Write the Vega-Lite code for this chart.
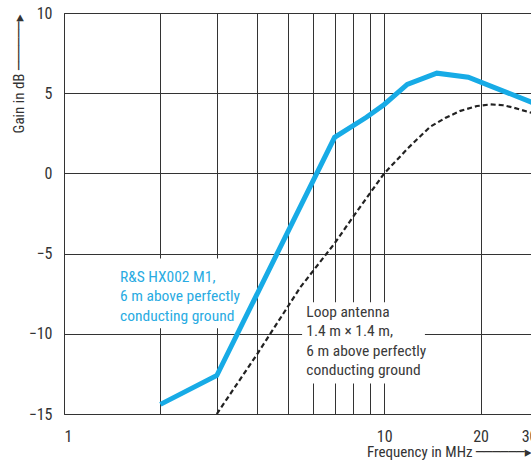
{
  "$schema": "https://vega.github.io/schema/vega-lite/v6.json",
  "width": 473,
  "height": 401,
  "autosize": {"type": "none"},
  "padding": {"left": 64, "top": 13, "right": -6, "bottom": 49},
  "background": "white",
  "config": {
    "view": {"stroke": "#333333", "strokeWidth": 1},
    "font": "Roboto Condensed, Open Sans Condensed, Noto Sans Condensed, DejaVu Sans Condensed",
    "axis": {
      "labelFont": "Roboto Condensed, Open Sans Condensed, Noto Sans Condensed, DejaVu Sans Condensed",
      "titleFont": "Roboto Condensed, Open Sans Condensed, Noto Sans Condensed, DejaVu Sans Condensed",
      "labelFontSize": 16,
      "titleFontSize": 15,
      "titleFontWeight": "normal",
      "labelColor": "#333333",
      "titleColor": "#333333",
      "gridColor": "#333333",
      "gridOpacity": 1,
      "gridWidth": 1,
      "ticks": false,
      "domain": false
    }
  },
  "datasets": {
    "curves": [
      {"series": "HX002", "freq": 2, "gain": -14.4},
      {"series": "HX002", "freq": 3, "gain": -12.6},
      {"series": "HX002", "freq": 7, "gain": 2.25},
      {"series": "HX002", "freq": 8.8, "gain": 3.5},
      {"series": "HX002", "freq": 10, "gain": 4.3},
      {"series": "HX002", "freq": 11.8, "gain": 5.55},
      {"series": "HX002", "freq": 14.6, "gain": 6.25},
      {"series": "HX002", "freq": 18.3, "gain": 6.0},
      {"series": "HX002", "freq": 30, "gain": 4.3},
      {"series": "Loop", "freq": 3, "gain": -15},
      {"series": "Loop", "freq": 4, "gain": -11.3},
      {"series": "Loop", "freq": 5.47, "gain": -7.1},
      {"series": "Loop", "freq": 7, "gain": -4.36},
      {"series": "Loop", "freq": 8, "gain": -2.7},
      {"series": "Loop", "freq": 10, "gain": 0},
      {"series": "Loop", "freq": 11.9, "gain": 1.6},
      {"series": "Loop", "freq": 13.9, "gain": 2.9},
      {"series": "Loop", "freq": 15.5, "gain": 3.45},
      {"series": "Loop", "freq": 17.3, "gain": 3.9},
      {"series": "Loop", "freq": 19.5, "gain": 4.2},
      {"series": "Loop", "freq": 21.5, "gain": 4.3},
      {"series": "Loop", "freq": 23.5, "gain": 4.25},
      {"series": "Loop", "freq": 25.3, "gain": 4.1},
      {"series": "Loop", "freq": 28.6, "gain": 3.8},
      {"series": "Loop", "freq": 30, "gain": 3.7}
    ]
  },
  "layer": [
    {
      "data": {"values": [{}]},
      "mark": {"type": "rect", "color": "white"},
      "encoding": {
        "x": {
          "datum": 1.3, "type": "quantitative",
          "scale": {"type": "log", "domain": [1, 30], "nice": false},
          "axis": {
            "values": [1, 2, 3, 4, 5, 6, 7, 8, 9, 10, 20, 30],
            "format": "d",
            "labelExpr": "(datum.value == 1 || datum.value == 10 || datum.value == 20 || datum.value == 30) ? datum.label : ''",
            "labelPadding": 14,
            "grid": true,
            "title": "Frequency in MHz ──────▸",
            "titleX": 467,
            "titleY": 37,
            "titleAlign": "right",
            "titleBaseline": "middle",
            "titleAnchor": "end",
            "titleLimit": 400
          }
        },
        "x2": {"datum": 3.55},
        "y": {
          "datum": -5.3, "type": "quantitative",
          "scale": {"domain": [-15, 10], "nice": false},
          "axis": {
            "values": [-15, -10, -5, 0, 5, 10],
            "labelPadding": 12,
            "grid": true,
            "title": "Gain in dB ──────▸",
            "titleAngle": -90,
            "titleX": -46,
            "titleY": 1,
            "titleAlign": "right",
            "titleBaseline": "middle",
            "titleAnchor": "end",
            "titleLimit": 300
          }
        },
        "y2": {"datum": -9.66}
      }
    },
    {
      "data": {"values": [{}]},
      "mark": {"type": "rect", "color": "white"},
      "encoding": {
        "x": {"datum": 5.54, "type": "quantitative"},
        "x2": {"datum": 13.4},
        "y": {"datum": -8.04, "type": "quantitative"},
        "y2": {"datum": -13.1}
      }
    },
    {
      "data": {"name": "curves"},
      "transform": [{"filter": "datum.series == 'Loop'"}],
      "mark": {"type": "line", "color": "#222222", "strokeWidth": 2.2, "strokeDash": [5, 3], "clip": true},
      "encoding": {
        "x": {"field": "freq", "type": "quantitative"},
        "y": {"field": "gain", "type": "quantitative"}
      }
    },
    {
      "data": {"name": "curves"},
      "transform": [{"filter": "datum.series == 'HX002'"}],
      "mark": {"type": "line", "color": "#17ABE6", "strokeWidth": 5, "strokeJoin": "miter", "clip": true},
      "encoding": {
        "x": {"field": "freq", "type": "quantitative"},
        "y": {"field": "gain", "type": "quantitative"}
      }
    },
    {
      "data": {"values": [{"freq": 1.496, "gain": -6.0, "label": "R&S HX002 M1,\n6 m above perfectly\nconducting ground"}]},
      "mark": {"type": "text", "align": "left", "baseline": "top", "lineBreak": "\n", "lineHeight": 19.5, "fontSize": 15.5, "color": "#29ABE2"},
      "encoding": {
        "x": {"field": "freq", "type": "quantitative"},
        "y": {"field": "gain", "type": "quantitative"},
        "text": {"field": "label"}
      }
    },
    {
      "data": {"values": [{"freq": 5.71, "gain": -8.2, "label": "Loop antenna\n1.4 m × 1.4 m,\n6 m above perfectly\nconducting ground"}]},
      "mark": {"type": "text", "align": "left", "baseline": "top", "lineBreak": "\n", "lineHeight": 19.5, "fontSize": 15.5, "color": "#3a3a3a"},
      "encoding": {
        "x": {"field": "freq", "type": "quantitative"},
        "y": {"field": "gain", "type": "quantitative"},
        "text": {"field": "label"}
      }
    }
  ]
}
